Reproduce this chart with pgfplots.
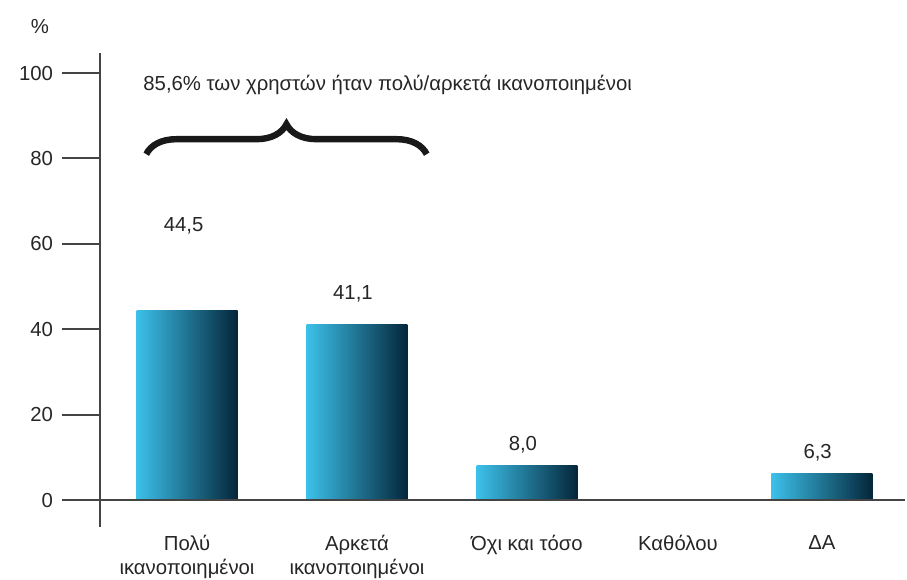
\documentclass[border=0pt]{standalone}
\usepackage{fontspec}
\setmainfont{Liberation Sans}
\usepackage{pgfplots}
\pgfplotsset{compat=1.18}
\usetikzlibrary{decorations.pathreplacing}
\definecolor{barL}{HTML}{3CC0EA}
\definecolor{barM}{HTML}{1A92BC}
\definecolor{barR}{HTML}{04263A}
\definecolor{txt}{HTML}{262626}
\definecolor{axc}{HTML}{444444}
\newcommand{\ff}{\fontsize{10.2}{12}\selectfont}
\begin{document}
\begin{tikzpicture}[x=0.5bp,y=0.5bp]
\useasboundingbox (0,0) rectangle (907,580);
\node[text=txt,font=\ff] at (40,553) {\%};
\begin{axis}[
  at={(50bp,26.5bp)}, anchor=south west,
  scale only axis, width=402.5bp, height=237bp,
  xmin=-0.512, xmax=4.224, ymin=-6.3, ymax=104.7,
  axis y line=left, axis x line=middle,
  axis line style={-, axc, line width=1bp},
  ytick={0,20,40,60,80,100},
  ytick pos=left, tick align=outside,
  major tick length=19bp,
  y tick style={axc, line width=1bp},
  xtick={0,1,2,2.888,3.735},
  xticklabels={{Πολύ\\ικανοποιημένοι},{Αρκετά\\ικανοποιημένοι},{Όχι και τόσο},{Καθόλου},{ΔΑ}},
  x tick style={draw=none},
  xticklabel style={align=center, anchor=north, yshift=5bp, text=txt, font=\fontsize{10.2}{12}\selectfont},
  yticklabel style={text=txt, font=\ff, xshift=-1bp},
  /pgf/number format/assume math mode=true,
  clip=false,
]
\addplot[ybar, bar width=0.594, draw=none, left color=barL, middle color=barM, right color=barR] coordinates {(0,44.5)};
\addplot[ybar, bar width=0.594, draw=none, left color=barL, middle color=barM, right color=barR] coordinates {(1,41.1)};
\addplot[ybar, bar width=0.594, draw=none, left color=barL, middle color=barM, right color=barR] coordinates {(2,8.0)};
\addplot[ybar, bar width=0.594, draw=none, left color=barL, middle color=barM, right color=barR] coordinates {(3.735,6.3)};
\draw[axc, line width=1bp] (axis cs:-0.512,0) -- (axis cs:4.224,0);
\node[text=txt, font=\ff] at (axis cs:-0.02,64.2) {44,5};
\node[text=txt, font=\ff] at (axis cs:0.976,48.2) {41,1};
\node[text=txt, font=\ff] at (axis cs:1.976,12.9) {8,0};
\node[text=txt, font=\ff] at (axis cs:3.71,11.2) {6,3};
\node[text=txt, font=\ff, anchor=west, inner sep=0pt] at (axis cs:-0.259,97.2) {85,6\% των χρηστών ήταν πολύ/αρκετά ικανοποιημένοι};
\draw[line width=3.2bp, black!90, decorate, decoration={brace, amplitude=15bp}] (axis cs:-0.24,81.0) -- (axis cs:1.41,81.0);
\end{axis}
\end{tikzpicture}
\end{document}
